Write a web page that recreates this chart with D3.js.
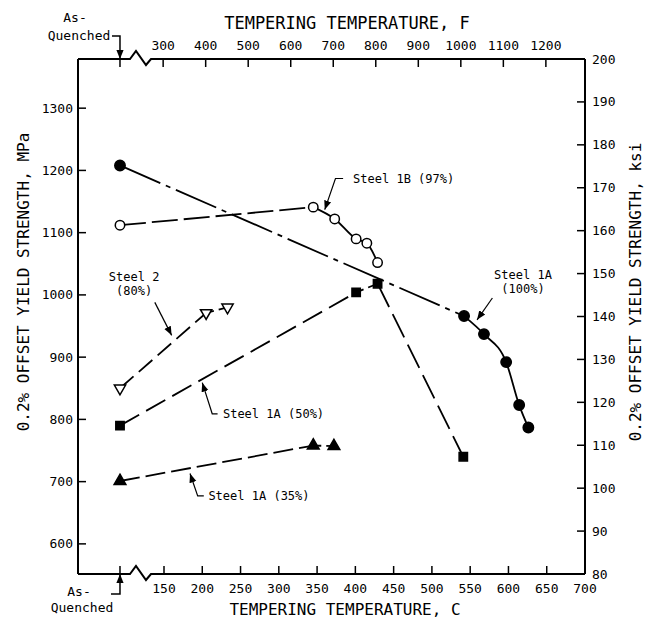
<!DOCTYPE html>
<html>
<head>
<meta charset="utf-8">
<script src="https://cdn.jsdelivr.net/npm/d3@7"></script>
<style>
	body { margin: 0; background: #fff; }
	text { font-family: "DejaVu Sans Mono", monospace; fill: #000; }
</style>
</head>
<body>
<div id="chart"></div>
<script>
// ********** TEMPERING CHART **********

// Temperatures in C, null = as-quenched
const steel1A100Temp = [null, 542, 568, 597, 614, 626];
const steel1A100Mpa = [1208, 966, 937, 892, 823, 787];

const steel1BTemp = [null, 345, 373, 401, 415, 429];
const steel1BMpa = [1112, 1141, 1122, 1090, 1083, 1052];

const steel2Temp = [null, 205, 233];
const steel2Mpa = [850, 971, 980];

const steel1A50Temp = [null, 401, 429, 541];
const steel1A50Mpa = [790, 1004, 1018, 740];

const steel1A35Temp = [null, 345, 372];
const steel1A35Mpa = [701, 758, 757];

// Tick labels
const cTicks = [150, 200, 250, 300, 350, 400, 450, 500, 550, 600, 650, 700];
const fTicks = [300, 400, 500, 600, 700, 800, 900, 1000, 1100, 1200];
const mpaTicks = [600, 700, 800, 900, 1000, 1100, 1200, 1300];
const ksiTicks = [80, 90, 100, 110, 120, 130, 140, 150, 160, 170, 180, 190, 200];

const width = 646, height = 620;
const frame = { left: 78, right: 585, top: 59, bottom: 574 };

// as-quenched sits left of the axis break
const asQuenchedAt = 92.5;
const ksiToMpa = 6.895;

const xC = d3.scaleLinear().domain([150, 700]).range([164, frame.right]);
const yKsi = d3.scaleLinear().domain([80, 200]).range([frame.bottom, frame.top]);
const yMpa = d3.scaleLinear().domain([80 * ksiToMpa, 200 * ksiToMpa]).range([frame.bottom, frame.top]);
const fToC = f => (f - 32) * 5 / 9;
const xPos = t => t === null ? xC(asQuenchedAt) : xC(t);

const svg = d3.select('#chart')
	.append('svg')
	.attr('width', width)
	.attr('height', height);

// arrowhead for leaders
svg.append('defs').append('marker')
	.attr('id', 'arrow')
	.attr('viewBox', '0 0 10 10')
	.attr('refX', 10)
	.attr('refY', 5)
	.attr('markerWidth', 9)
	.attr('markerHeight', 9)
	.attr('markerUnits', 'userSpaceOnUse')
	.attr('orient', 'auto')
	.append('path')
	.attr('d', 'M0,1 L10,5 L0,9 Z')
	.attr('fill', '#000');

// ---------- frame with axis breaks ----------
const breakPath = (y) => {
	const x0 = xC(asQuenchedAt) + 10;
	return `M${frame.left},${y} L${x0},${y} L${x0 + 6},${y - 8} L${x0 + 16},${y + 6} L${x0 + 21},${y} L${frame.right},${y}`;
};

const frameG = svg.append('g')
	.attr('fill', 'none')
	.attr('stroke', '#000')
	.attr('stroke-width', 2);

frameG.append('path').attr('d', breakPath(frame.top));
frameG.append('path').attr('d', breakPath(frame.bottom));
frameG.append('line')
	.attr('x1', frame.left).attr('x2', frame.left)
	.attr('y1', frame.top).attr('y2', frame.bottom);
frameG.append('line')
	.attr('x1', frame.right).attr('x2', frame.right)
	.attr('y1', frame.top).attr('y2', frame.bottom);

const tickG = svg.append('g')
	.attr('stroke', '#000')
	.attr('stroke-width', 1.5);

// bottom C ticks
tickG.selectAll('line.c')
	.data(cTicks.slice(0, -1))
	.enter()
	.append('line')
	.attr('class', 'c')
	.attr('x1', d => xC(d)).attr('x2', d => xC(d))
	.attr('y1', frame.bottom).attr('y2', frame.bottom - 8);

svg.selectAll('text.c')
	.data(cTicks)
	.enter()
	.append('text')
	.attr('class', 'c')
	.attr('x', d => xC(d))
	.attr('y', frame.bottom + 19)
	.attr('text-anchor', 'middle')
	.attr('font-size', '13px')
	.text(d => d);

// top F ticks
tickG.selectAll('line.f')
	.data(fTicks)
	.enter()
	.append('line')
	.attr('class', 'f')
	.attr('x1', d => xC(fToC(d))).attr('x2', d => xC(fToC(d)))
	.attr('y1', frame.top).attr('y2', frame.top + 8);

svg.selectAll('text.f')
	.data(fTicks)
	.enter()
	.append('text')
	.attr('class', 'f')
	.attr('x', d => xC(fToC(d)))
	.attr('y', frame.top - 9)
	.attr('text-anchor', 'middle')
	.attr('font-size', '13px')
	.text(d => d);

// left MPa ticks
tickG.selectAll('line.mpa')
	.data(mpaTicks)
	.enter()
	.append('line')
	.attr('class', 'mpa')
	.attr('x1', frame.left).attr('x2', frame.left + 8)
	.attr('y1', d => yMpa(d)).attr('y2', d => yMpa(d));

svg.selectAll('text.mpa')
	.data(mpaTicks)
	.enter()
	.append('text')
	.attr('class', 'mpa')
	.attr('x', frame.left - 5)
	.attr('y', d => yMpa(d))
	.attr('dy', '0.35em')
	.attr('text-anchor', 'end')
	.attr('font-size', '13px')
	.text(d => d);

// right ksi ticks
tickG.selectAll('line.ksi')
	.data(ksiTicks.slice(1, -1))
	.enter()
	.append('line')
	.attr('class', 'ksi')
	.attr('x1', frame.right).attr('x2', frame.right - 8)
	.attr('y1', d => yKsi(d)).attr('y2', d => yKsi(d));

svg.selectAll('text.ksi')
	.data(ksiTicks)
	.enter()
	.append('text')
	.attr('class', 'ksi')
	.attr('x', frame.right + 7)
	.attr('y', d => yKsi(d))
	.attr('dy', '0.35em')
	.attr('font-size', '13px')
	.text(d => d);

// axis titles
svg.append('text')
	.attr('x', 347).attr('y', 29)
	.attr('text-anchor', 'middle')
	.attr('font-size', '17px')
	.text('TEMPERING TEMPERATURE, F');

svg.append('text')
	.attr('x', 345).attr('y', 615)
	.attr('text-anchor', 'middle')
	.attr('font-size', '16px')
	.text('TEMPERING TEMPERATURE, C');

svg.append('text')
	.attr('transform', 'translate(29, 282) rotate(-90)')
	.attr('text-anchor', 'middle')
	.attr('font-size', '16px')
	.text('0.2% OFFSET YIELD STRENGTH, MPa');

svg.append('text')
	.attr('transform', 'translate(641, 292) rotate(-90)')
	.attr('text-anchor', 'middle')
	.attr('font-size', '16px')
	.text('0.2% OFFSET YIELD STRENGTH, ksi');

// ---------- as-quenched markers ----------
const aqX = xC(asQuenchedAt);
const aqG = svg.append('g')
	.attr('fill', 'none')
	.attr('stroke', '#000')
	.attr('stroke-width', 1.5);

aqG.append('path')
	.attr('d', `M${aqX - 8},${frame.top - 23} L${aqX},${frame.top - 23} L${aqX},${frame.top}`)
	.attr('marker-end', 'url(#arrow)');
aqG.append('line')
	.attr('x1', aqX).attr('x2', aqX)
	.attr('y1', frame.top).attr('y2', frame.top + 8);

aqG.append('path')
	.attr('d', `M${aqX - 9},${frame.bottom + 20} L${aqX},${frame.bottom + 20} L${aqX},${frame.bottom}`)
	.attr('marker-end', 'url(#arrow)');
aqG.append('line')
	.attr('x1', aqX).attr('x2', aqX)
	.attr('y1', frame.bottom).attr('y2', frame.bottom - 8);

const aqText = [
	{ x: aqX - 45, y: frame.top - 37, t: 'As-' },
	{ x: aqX - 41, y: frame.top - 19, t: 'Quenched' },
	{ x: aqX - 41, y: frame.bottom + 22, t: 'As-' },
	{ x: aqX - 38, y: frame.bottom + 38, t: 'Quenched' }
];
svg.selectAll('text.aq')
	.data(aqText)
	.enter()
	.append('text')
	.attr('class', 'aq')
	.attr('x', d => d.x)
	.attr('y', d => d.y)
	.attr('text-anchor', 'middle')
	.attr('font-size', '13px')
	.text(d => d.t);

// ---------- series ----------
const zip = (temps, vals) => temps.map((t, i) => ({ t: t, v: vals[i] }));

const series = [
	{ pts: zip(steel1A100Temp, steel1A100Mpa), sym: d3.symbolCircle, size: 85, fill: '#000', rot: 0,
	  segs: [{ from: 0, to: 1, dash: '44,6,5,6' }, { from: 1, to: 5, dash: null, smooth: true }] },
	{ pts: zip(steel1BTemp, steel1BMpa), sym: d3.symbolCircle, size: 70, fill: '#fff', rot: 0,
	  segs: [{ from: 0, to: 1, dash: '26,6' }, { from: 1, to: 5, dash: null, smooth: true }] },
	{ pts: zip(steel2Temp, steel2Mpa), sym: d3.symbolTriangle, size: 55, fill: '#fff', rot: 180,
	  segs: [{ from: 0, to: 1, dash: '18,7' }, { from: 1, to: 2, dash: '8,5' }] },
	{ pts: zip(steel1A50Temp, steel1A50Mpa), sym: d3.symbolSquare, size: 70, fill: '#000', rot: 0,
	  segs: [{ from: 0, to: 1, dash: '22,8' }, { from: 1, to: 2, dash: '8,5' }, { from: 2, to: 3, dash: '26,8' }] },
	{ pts: zip(steel1A35Temp, steel1A35Mpa), sym: d3.symbolTriangle, size: 60, fill: '#000', rot: 0,
	  segs: [{ from: 0, to: 1, dash: '20,6' }, { from: 1, to: 2, dash: '8,5' }] }
];

const lineGen = d3.line()
	.x(d => xPos(d.t))
	.y(d => yMpa(d.v));

const lineG = svg.append('g')
	.attr('fill', 'none')
	.attr('stroke', '#000')
	.attr('stroke-width', 1.8);

series.forEach(s => {
	s.segs.forEach(seg => {
		lineG.append('path')
			.attr('d', lineGen.curve(seg.smooth ? d3.curveMonotoneX : d3.curveLinear)(s.pts.slice(seg.from, seg.to + 1)))
			.attr('stroke-dasharray', seg.dash);
	});
});

const markG = svg.append('g');
series.forEach(s => {
	markG.selectAll(null)
		.data(s.pts)
		.enter()
		.append('path')
		.attr('d', d3.symbol().type(s.sym).size(s.size))
		.attr('transform', d => `translate(${xPos(d.t)},${yMpa(d.v)}) rotate(${s.rot})`)
		.attr('fill', s.fill)
		.attr('stroke', '#000')
		.attr('stroke-width', 1.5);
});

// ---------- labels with leaders ----------
const labels = [
	{ lines: ['Steel 1B (97%)'], x: 397, v: 1180, anchor: 'start',
	  leader: [[384, 1187], [374, 1187], [360, 1137]] },
	{ lines: ['Steel 1A', '(100%)'], x: 619, v: 1026, anchor: 'middle',
	  leader: [[579, 995], [559, 960]] },
	{ lines: ['Steel 2', '(80%)'], x: 111, v: 1022, anchor: 'middle',
	  leader: [[138, 988], [160, 935]] },
	{ lines: ['Steel 1A (50%)'], x: 227, v: 802, anchor: 'start',
	  leader: [[220, 809], [213, 809], [200, 859]] },
	{ lines: ['Steel 1A (35%)'], x: 208, v: 671, anchor: 'start',
	  leader: [[202, 677], [194, 677], [184, 713]] }
];

const leaderLine = d3.line()
	.x(d => xC(d[0]))
	.y(d => yMpa(d[1]));

labels.forEach(l => {
	const text = svg.append('text')
		.attr('x', xC(l.x))
		.attr('y', yMpa(l.v))
		.attr('text-anchor', l.anchor)
		.attr('font-size', '12px');
	l.lines.forEach((ln, i) => {
		text.append('tspan')
			.attr('x', xC(l.x))
			.attr('dy', i === 0 ? 0 : '1.15em')
			.text(ln);
	});
	svg.append('path')
		.attr('d', leaderLine(l.leader))
		.attr('fill', 'none')
		.attr('stroke', '#000')
		.attr('stroke-width', 1.2)
		.attr('marker-end', 'url(#arrow)');
});
</script>
</body>
</html>
